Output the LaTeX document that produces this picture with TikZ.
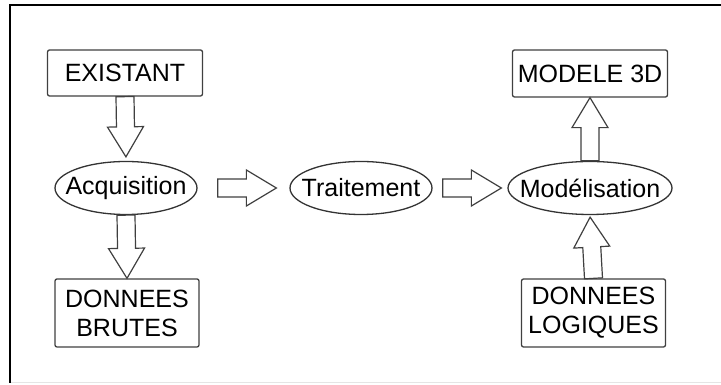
\documentclass[tikz,border=0pt]{standalone}
\usepackage{fontspec}
\setmainfont{Liberation Sans}
\usepackage{tikz}
\usetikzlibrary{shapes.geometric}
\usetikzlibrary{positioning}
\usetikzlibrary{calc}
\tikzset{
  % Common styles for the chain
  box/.style={draw=black!75, line width=1.3pt, rounded corners=2pt, fill=white,
              align=center, inner sep=0pt},
  oval/.style={draw=black!80, line width=1.3pt, ellipse, fill=white, inner sep=0pt,
               minimum width=142pt, minimum height=53pt}
}
% label of zero width, so the ellipse keeps its minimum size
\newcommand{\ovaltext}[1]{\makebox[0pt]{#1}}

\begin{document}
\begin{tikzpicture}[
    x=1pt, y=1pt,
    every node/.style={font=\fontsize{25pt}{29pt}\selectfont, text=black},
    % hollow block arrow, #1 = gap at start, #2 = gap at target
    blk/.style 2 args={draw=black!75, line width=1.2pt, fill=white, line join=miter,
      to path={let \p1=(\tikztostart), \p2=(\tikztotarget),
                   \n1={veclen(\x2-\x1,\y2-\y1)}, \n2={atan2(\y2-\y1,\x2-\x1)} in
               [shift={(\p1)}, rotate=\n2]
               (#1,-9) -- (\n1-#2-30,-9) -- (\n1-#2-30,-18) -- (\n1-#2,0)
               -- (\n1-#2-30,18) -- (\n1-#2-30,9) -- (#1,9) -- cycle}}
]
\useasboundingbox (0,0) rectangle (721,385);

% Frame
\draw[black!10, line width=1pt] (10,2) -- (721,2);
\draw[black, line width=2pt] (10,2) -- (10,380) -- (721,380);

% Top row
\node[box, minimum width=155pt, minimum height=46pt] (existant) at (125,312) {EXISTANT};
\node[box, minimum width=155pt, minimum height=47pt] (modele) at (590,311.5) {MODELE 3D};

% Processing chain
\node[oval] (acq) at (126,197) {\ovaltext{Acquisition}};
\node[oval] (trait) at (361,197) {\ovaltext{Traitement}};
\node[oval, minimum width=164pt] (model) at (590,197) {\ovaltext{Modélisation}};

% Bottom row
\node[box, minimum width=144pt, minimum height=68pt] (brutes) at (127,72) {DONNEES\\BRUTES};
\node[box, minimum width=144pt, minimum height=68pt] (logiques) at (593.5,72) {DONNEES\\LOGIQUES};

% Arrows
\draw[blk={0}{4}] (existant.south) to (acq.north);
\draw[blk={0}{0}] (acq.south) to (brutes.north);
\draw[blk={20}{13}] (acq.east) to (trait.west);
\draw[blk={10}{6}] (trait.east) to (model.west);
\draw[blk={0}{0}] (model.north) to (modele.south);
\draw[blk={0}{2}] (logiques.north) to (model.south);

\end{tikzpicture}
\end{document}
